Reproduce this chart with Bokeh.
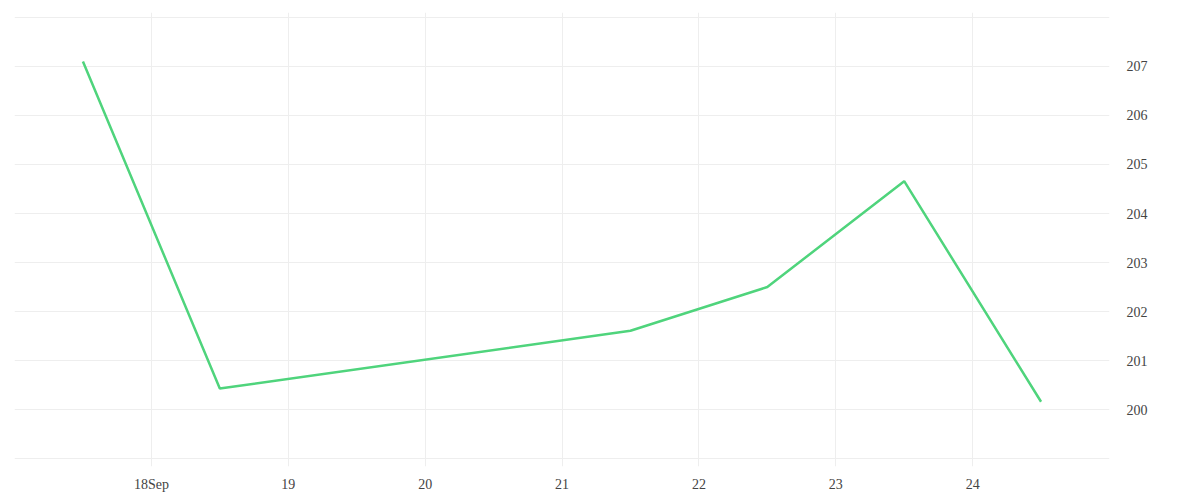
import pandas as pd
from bokeh.plotting import figure
from bokeh.models import LinearAxis, FixedTicker, Range1d, Grid
from bokeh.embed import file_html
from bokeh.resources import INLINE

# data
times = ["2020-09-17 12:00", "2020-09-18 12:00", "2020-09-21 12:00",
         "2020-09-22 12:00", "2020-09-23 12:00", "2020-09-24 12:00"]
values = [207.1, 200.43, 201.61, 202.5, 204.66, 200.16]
x_tick_days = ["2020-09-17", "2020-09-18", "2020-09-19", "2020-09-20", "2020-09-21",
               "2020-09-22", "2020-09-23", "2020-09-24", "2020-09-25"]
x_tick_labels = ["", "18Sep", "19", "20", "21", "22", "23", "24", ""]
y_ticks = [199, 200, 201, 202, 203, 204, 205, 206, 207, 208]
y_tick_labels = ["", "200", "201", "202", "203", "204", "205", "206", "207", ""]

def ms(s):
    return pd.Timestamp(s).value / 1e6

xs = [ms(t) for t in times]
xt = [ms(t) for t in x_tick_days]

p = figure(width=1184, height=490, frame_width=1095, frame_height=454,
           output_backend="svg", toolbar_location=None,
           x_axis_type=None, y_axis_location=None,
           min_border_left=14, min_border_top=12, min_border_right=75, min_border_bottom=24)
p.x_range = Range1d(xt[0], xt[-1])
p.y_range = Range1d(198.84, 208.1)
p.outline_line_color = None

xaxis = LinearAxis(ticker=FixedTicker(ticks=xt))
xaxis.major_label_overrides = {t: l for t, l in zip(xt, x_tick_labels)}
yaxis = LinearAxis(ticker=FixedTicker(ticks=y_ticks))
yaxis.major_label_overrides = {t: l for t, l in zip(y_ticks, y_tick_labels)}
for ax in (xaxis, yaxis):
    ax.axis_line_color = None
    ax.major_tick_line_color = None
    ax.minor_tick_line_color = None
    ax.major_label_text_font = "Liberation Serif"
    ax.major_label_text_font_size = "14px"
    ax.major_label_text_color = "#444444"
xaxis.major_label_standoff = 4
yaxis.major_label_standoff = 11
p.add_layout(xaxis, "below")
p.add_layout(yaxis, "right")

for g in list(p.grid):
    p.center.remove(g)
xgrid = Grid(dimension=0, ticker=xaxis.ticker, grid_line_color="#eeeeee", grid_line_width=1)
ygrid = Grid(dimension=1, ticker=yaxis.ticker, grid_line_color="#eeeeee", grid_line_width=1)
p.add_layout(xgrid)
p.add_layout(ygrid)

p.line(xs, values, line_color="#4fd47c", line_width=2.5)

open("out.html", "w").write(file_html(p, INLINE))
